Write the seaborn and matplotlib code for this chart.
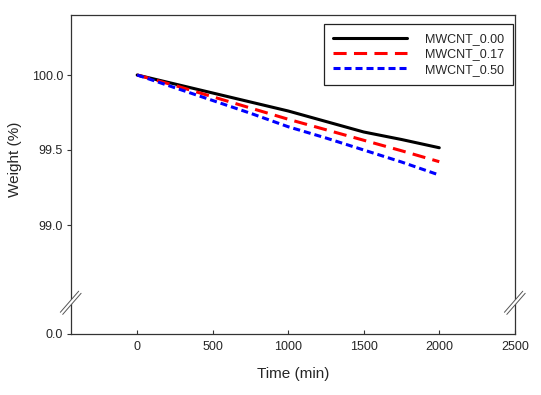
import matplotlib
matplotlib.use("Agg")
import numpy as np
import pandas as pd
import matplotlib.pyplot as plt
import seaborn as sns
from matplotlib.lines import Line2D

# ---- data ----
time_min = [0, 250, 500, 750, 1000, 1250, 1500, 1750, 2000]
w_000 = [100.0, 99.94, 99.88, 99.82, 99.76, 99.69, 99.62, 99.57, 99.515]
w_017 = [100.0, 99.93, 99.855, 99.78, 99.705, 99.635, 99.565, 99.495, 99.422]
w_050 = [100.0, 99.915, 99.83, 99.745, 99.655, 99.58, 99.50, 99.42, 99.333]
series_names = ["MWCNT_0.00", "MWCNT_0.17", "MWCNT_0.50"]
x_ticks = [0, 500, 1000, 1500, 2000, 2500]
y_ticks_upper = [99.0, 99.5, 100.0]
y_ticks_lower = [0.0]

df = pd.DataFrame({
    "Time": time_min * 3,
    "Weight": w_000 + w_017 + w_050,
    "Sample": [n for n in series_names for _ in time_min],
})

sns.set_theme(style="white")
plt.rcParams["font.family"] = ["Liberation Sans", "DejaVu Sans"]

W, H = 541, 395
fig = plt.figure(figsize=(W / 100, H / 100), dpi=100)
L, R = 70.7 / W, 514.8 / W
top, brk, bot = 1 - 15 / H, 1 - 303 / H, 1 - 334 / H
ax = fig.add_axes([L, brk, R - L, top - brk])
axb = fig.add_axes([L, bot, R - L, brk - bot])

palette = {"MWCNT_0.00": "black", "MWCNT_0.17": "#ff0000", "MWCNT_0.50": "#0000ff"}
dashes = {"MWCNT_0.00": "", "MWCNT_0.17": (4.3, 2.4), "MWCNT_0.50": (2.3, 1.3)}
sns.lineplot(data=df, x="Time", y="Weight", hue="Sample", style="Sample",
             palette=palette, dashes=dashes, linewidth=2.2, ax=ax, legend=False,
             errorbar=None)

xlim = (-440, 2500)
ax.set_xlim(*xlim)
axb.set_xlim(*xlim)
ax.set_ylim(98.48, 100.4)
axb.set_ylim(0, 0.2)

spine_c = "#333333"
for a in (ax, axb):
    for s in a.spines.values():
        s.set_color(spine_c)
        s.set_linewidth(0.9)
    a.set_facecolor("white")
ax.spines["bottom"].set_visible(False)
axb.spines["top"].set_visible(False)

ax.set_xticks([])
ax.set_xlabel("")
ax.set_yticks(y_ticks_upper)
ax.set_yticklabels([f"{v:.1f}" for v in y_ticks_upper])
ax.tick_params(axis="y", direction="out", length=3, width=0.8, color=spine_c,
               labelsize=9, pad=2.5, left=True)
ax.set_ylabel("Weight (%)", fontsize=11, labelpad=7)

axb.set_yticks(y_ticks_lower)
axb.set_yticklabels([f"{v:.1f}" for v in y_ticks_lower])
axb.tick_params(axis="y", direction="out", length=3, width=0.8, color=spine_c,
                labelsize=9, pad=2.5, left=True)
axb.set_xticks(x_ticks)
axb.set_xticklabels([str(v) for v in x_ticks])
axb.tick_params(axis="x", direction="in", length=3, width=0.8, color=spine_c,
                labelsize=9, pad=5, bottom=True)
axb.set_xlabel("Time (min)", fontsize=11, labelpad=10)
axb.set_ylabel("")

leg = ax.legend(ax.lines[:3], series_names, loc="upper right",
                bbox_to_anchor=(0.9953, 0.9677), borderaxespad=0,
                fontsize=9, frameon=True, fancybox=False, framealpha=1,
                edgecolor="#222222", handlelength=5.9, handletextpad=1.45,
                labelspacing=0.27, borderpad=0.7)
leg.get_frame().set_linewidth(0.9)

# axis break marks
def brk_mark(cx, cy):
    u = np.array([18.3, 21.0]); u = u / np.hypot(*u)
    n = np.array([-u[1], u[0]])
    half = 14.0
    def seg(off, **kw):
        p0 = np.array([cx, cy]) - u * half + n * off
        p1 = np.array([cx, cy]) + u * half + n * off
        fig.add_artist(Line2D([p0[0] / W, p1[0] / W], [p0[1] / H, p1[1] / H],
                              transform=fig.transFigure, **kw))
    seg(0, color="white", linewidth=2.2, solid_capstyle="butt")
    seg(1.6, color="#555555", linewidth=0.7)
    seg(-1.6, color="#555555", linewidth=0.7)

brk_mark(70.7, H - 302.8)
brk_mark(514.8, H - 302.8)

fig.savefig("out.png", dpi=100)
